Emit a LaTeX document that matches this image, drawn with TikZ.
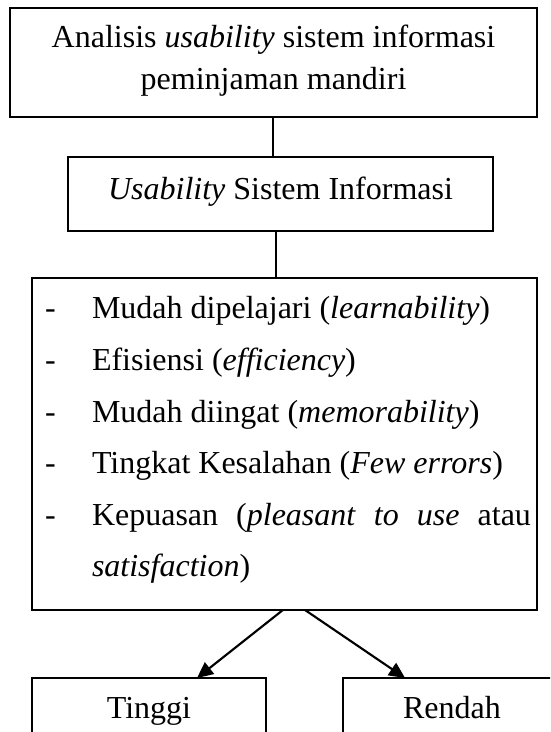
\documentclass[tikz,border=0pt]{standalone}
\usepackage{fontspec}
\setmainfont{Liberation Serif}
\usetikzlibrary{arrows.meta}
\begin{document}
\begin{tikzpicture}[x=0.375pt,y=-0.375pt,
  box/.style={draw, line width=1pt, inner sep=0pt, outer sep=0pt},
  txt/.style={inner sep=0pt, outer sep=0pt, font=\fontsize{12}{14}\selectfont, anchor=base},
  ltxt/.style={txt, anchor=base west},
  conn/.style={line width=0.8pt},
  arr/.style={conn, -{Triangle[length=6pt,width=5.5pt]}}]
\clip (0,0) rectangle (550,732);
% boxes
\node[box, minimum width=197.63pt, minimum height=40.88pt] (b1) at (273.5,62.5) {};
\node[box, minimum width=159.38pt, minimum height=27.75pt] (b2) at (280.5,194) {};
\node[box, minimum width=189.38pt, minimum height=124.5pt] (b3) at (284.5,444) {};
\node[box, minimum width=87.75pt, minimum height=34.5pt] (t) at (149,724) {};
\node[box, minimum width=81.75pt, minimum height=34.5pt] (r) at (452,724) {};
% texts
\node[txt] (b1a) at (273.5,48) {Analisis \textit{usability} sistem informasi};
\node[txt] (b1b) at (273.5,90) {peminjaman mandiri};
\node[txt] (b2a) at (280.5,200) {\textit{Usability} Sistem Informasi};
\node[ltxt] (d1) at (45,319) {-};
\node[ltxt] (l1) at (92,319) {Mudah dipelajari (\textit{learnability})};
\node[ltxt] (d2) at (45,370.5) {-};
\node[ltxt] (l2) at (92,370.5) {Efisiensi (\textit{efficiency})};
\node[ltxt] (d3) at (45,422) {-};
\node[ltxt] (l3) at (92,422) {Mudah diingat (\textit{memorability})};
\node[ltxt] (d4) at (45,473.5) {-};
\node[ltxt] (l4) at (92,473.5) {Tingkat Kesalahan (\textit{Few errors})};
\node[ltxt] (d5) at (45,525) {-};
\node[ltxt] (l5) at (92,525) {\makebox[164.6pt][l]{Kepuasan\hfill(\textit{pleasant}\hfill\textit{to}\hfill\textit{use}\hfill atau}};
\node[ltxt] (l6) at (92,576.5) {\textit{satisfaction})};
\node[txt] (ta) at (149,718) {Tinggi};
\node[txt] (ra) at (452,718) {Rendah};
% connectors
\draw[conn] ([xshift=-0.3pt]b1.south) -- ([xshift=-0.3pt]b1.south |- b2.north);
\draw[conn] ([xshift=-1.7pt]b2.south) -- ([xshift=-1.7pt]b2.south |- b3.north);
\draw[arr] ([xshift=-0.6pt]b3.south) -- ([xshift=18pt]t.north);
\draw[arr] ([xshift=7.7pt]b3.south) -- ([xshift=-17.6pt]r.north);
\end{tikzpicture}
\end{document}
